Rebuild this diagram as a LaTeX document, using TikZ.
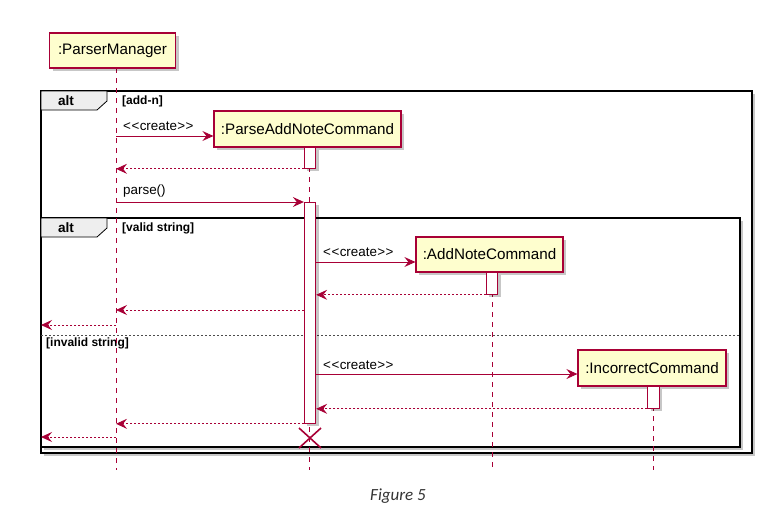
\documentclass[tikz,border=0pt]{standalone}
\usepackage{fontspec}
\setmainfont{Liberation Sans}
\newfontfamily\capfont{Carlito}
\usetikzlibrary{arrows.meta}
\definecolor{umlred}{HTML}{A80036}
\definecolor{umlfill}{HTML}{FEFECE}
\definecolor{tabfill}{HTML}{EEEEEE}
\newcommand{\umlcreate}{{<}\kern0.6pt{<}\kern0.3pt create\kern0.3pt{>}\kern0.6pt{>}}
\tikzset{
  shadowed/.style={preaction={fill=black,opacity=0.22,transform canvas={xshift=3pt,yshift=-3pt}}},
  participant/.style={draw=umlred,fill=umlfill,line width=1.2pt,shadowed,
    inner sep=0pt,font=\fontsize{15.2}{17}\selectfont},
  actbar/.style={draw=umlred,fill=white,line width=0.8pt,shadowed,inner sep=0pt,
    minimum width=11.5pt,anchor=north},
  lifeline/.style={draw=umlred,line width=0.8pt,dash pattern=on 5pt off 5pt},
  msg/.style={draw=umlred,line width=0.9pt,-{Stealth[length=11pt,width=10pt,inset=4pt]}},
  ret/.style={msg,dash pattern=on 2pt off 2pt},
  msglabel/.style={anchor=west,inner sep=0pt,font=\fontsize{13.4}{15}\selectfont},
  guard/.style={anchor=west,inner sep=0pt,font=\bfseries\fontsize{12}{14}\selectfont},
  frame/.style={draw=black,line width=2pt,fill=white,shadowed},
  tabshape/.style={draw=black,line width=0.8pt,fill=tabfill},
  separator/.style={draw=black!70,line width=0.6pt,dash pattern=on 2pt off 2pt},
  destroy/.style={draw=umlred,line width=1.6pt}
}
\begin{document}
\begin{tikzpicture}[x=1pt,y=-1pt]
\useasboundingbox (0,0) rectangle (779,514);

% frames
\path[frame] (41,91) rectangle (752,453);
\path[frame] (41,218) rectangle (740,447);
\path[tabshape] (41,91) -- (107,91) -- (107,101) -- (97,110) -- (41,110) -- cycle;
\path[tabshape] (41,218) -- (107,218) -- (107,228) -- (97,237) -- (41,237) -- cycle;
\node[anchor=center,inner sep=0pt,font=\bfseries\fontsize{13.6}{15}\selectfont] (alt1) at (66,101) {alt};
\node[anchor=center,inner sep=0pt,font=\bfseries\fontsize{13.6}{15}\selectfont] (alt2) at (66,228) {alt};
\node[guard] (g1) at (122,101) {[add-n]};
\node[guard] (g2) at (122,228) {[valid string]};
\node[guard] (g3) at (46,343) {[invalid string]};
\coordinate (sepL) at (41,335);
\coordinate (sepR) at (740,335);
\draw[separator] (sepL) -- (sepR);

% lifelines
\coordinate (pmtop) at (116,68);   \coordinate (pmbot) at (116,470);
\coordinate (pantop) at (309,147); \coordinate (panbot) at (309,470);
\coordinate (anctop) at (492,272); \coordinate (ancbot) at (492,470);
\coordinate (ictop) at (653,386);  \coordinate (icbot) at (653,470);
\draw[lifeline] (pmtop) -- (pmbot);
\draw[lifeline] (pantop) -- (panbot);
\draw[lifeline] (anctop) -- (ancbot);
\draw[lifeline] (ictop) -- (icbot);

% participants
\node[participant,minimum width=126pt,minimum height=35pt] (pm) at (112.5,50.5) {:ParserManager};
\node[participant,minimum width=187pt,minimum height=36pt] (pan) at (307.5,129) {:ParseAddNoteCommand};
\node[participant,minimum width=147pt,minimum height=35pt] (anc) at (489.5,254.5) {:AddNoteCommand};
\node[participant,minimum width=148pt,minimum height=36pt] (ic) at (652,368) {:IncorrectCommand};

% activation bars
\node[actbar,minimum height=21pt] (act1) at (310,147) {};
\node[actbar,minimum height=221pt] (act2) at (310,202) {};
\node[actbar,minimum height=22pt] (act3) at (492,272) {};
\node[actbar,minimum height=22pt] (act4) at (653.5,386) {};

% messages
\coordinate (m1) at (116,136);
\draw[msg] (m1) -- (m1 -| pan.west);
\node[msglabel] (l1) at (123,126) {\umlcreate};
\draw[ret] (act1.south west) -- (act1.south west -| pmtop);
\draw[msg] (act2.north west -| pmtop) -- (act2.north west);
\node[msglabel] (l2) at (123,191) {parse()};
\coordinate (m4) at (316,262);
\draw[msg] (m4 -| act2.east) -- (m4 -| anc.west);
\node[msglabel] (l3) at (323,252) {\umlcreate};
\draw[ret] (act3.south west) -- (act3.south west -| act2.east);
\coordinate (m6) at (304,310);
\draw[ret] (m6 -| act2.west) -- (m6 -| pmtop);
\coordinate (m7) at (116,325);
\draw[ret] (m7) -- (m7 -| sepL);
\coordinate (m9) at (316,374);
\draw[msg] (m9 -| act2.east) -- (m9 -| ic.west);
\node[msglabel] (l4) at (323,365) {\umlcreate};
\draw[ret] (act4.south west) -- (act4.south west -| act2.east);
\draw[ret] (act2.south west) -- (act2.south west -| pmtop);
\coordinate (m12) at (116,437);
\draw[ret] (m12) -- (m12 -| sepL);

% destroy
\coordinate (xc) at (310,438);
\draw[destroy] ([shift={(-11,-10)}]xc) -- ([shift={(11,10)}]xc);
\draw[destroy] ([shift={(-11,10)}]xc) -- ([shift={(11,-10)}]xc);

% caption
\node[font=\capfont\itshape\fontsize{17}{20}\selectfont,text=black!80] (cap) at (398,496) {Figure 5};
\end{tikzpicture}
\end{document}
